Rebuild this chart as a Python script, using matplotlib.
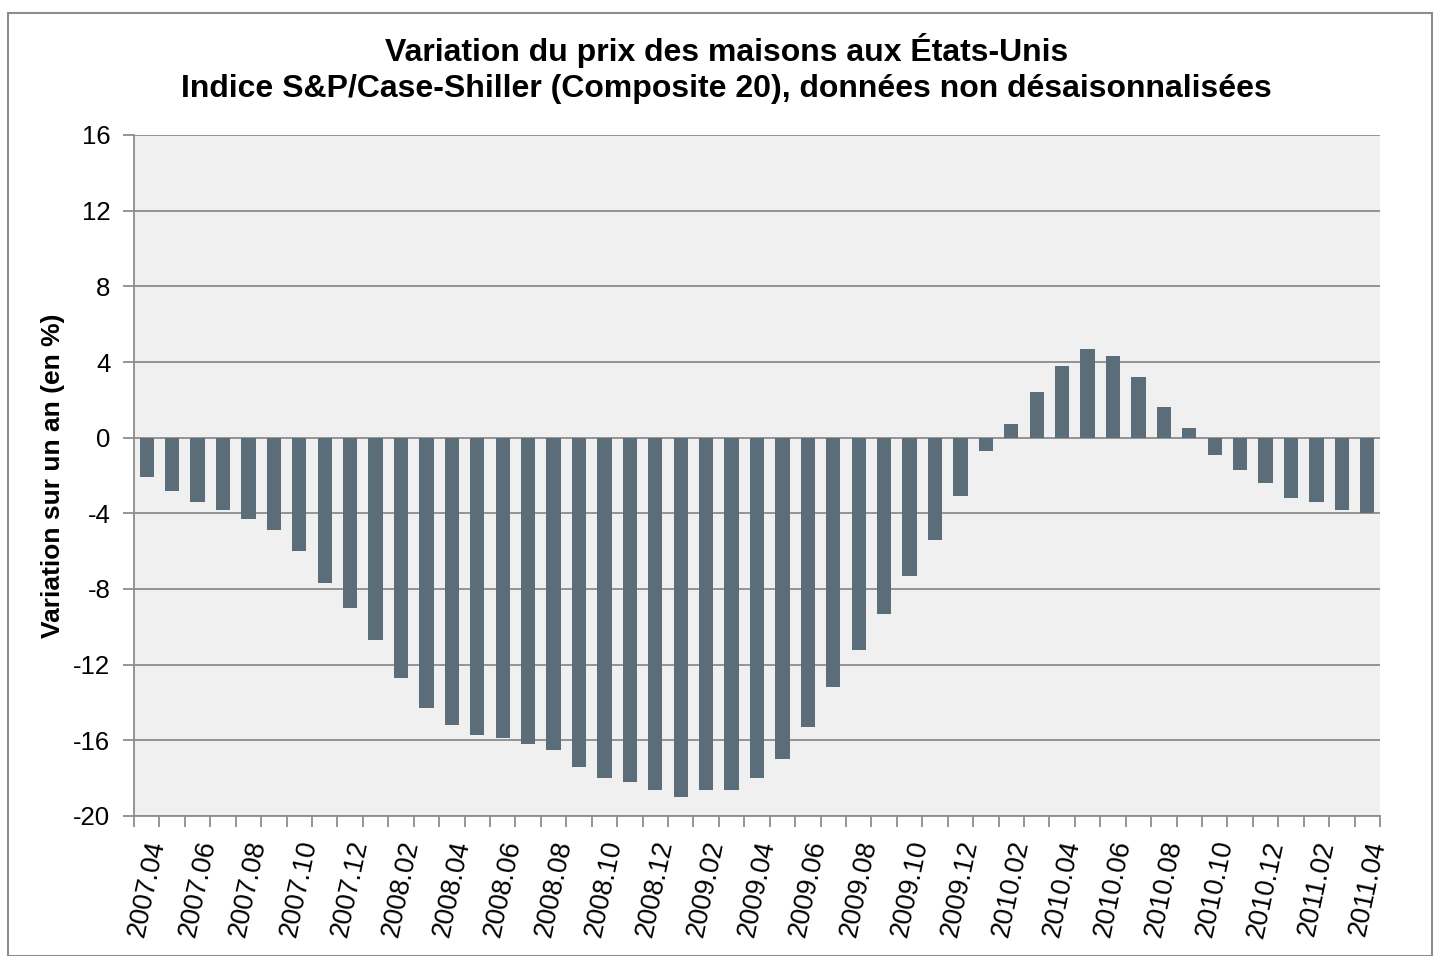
import matplotlib
matplotlib.use("Agg")
import matplotlib.pyplot as plt
import numpy as np
from matplotlib.patches import Rectangle

# monthly labels 2007.04 .. 2011.04
months = [f"{y}.{m:02d}" for y in range(2007, 2012) for m in range(1, 13)]
months = months[months.index("2007.04"):months.index("2011.04") + 1]

# year-over-year change (%)
values = [-2.1, -2.8, -3.4, -3.8, -4.3, -4.9, -6.0, -7.7, -9.0, -10.7,
          -12.7, -14.3, -15.2, -15.7, -15.9, -16.2, -16.5, -17.4, -18.0, -18.2,
          -18.6, -19.0, -18.6, -18.6, -18.0, -17.0, -15.3, -13.2, -11.2, -9.3,
          -7.3, -5.4, -3.1, -0.7, 0.7, 2.4, 3.8, 4.7, 4.3, 3.2,
          1.6, 0.5, -0.9, -1.7, -2.4, -3.2, -3.4, -3.8, -4.0]

yticks = [16, 12, 8, 4, 0, -4, -8, -12, -16, -20]

title = ("Variation du prix des maisons aux États-Unis\n"
         "Indice S&P/Case-Shiller (Composite 20), données non désaisonnalisées")

plt.rcParams["font.family"] = ["Liberation Sans", "DejaVu Sans"]

fig = plt.figure(figsize=(14.39, 9.56), dpi=100)
ax = fig.add_axes([134 / 1439, 1 - 816 / 956, (1380 - 134) / 1439, (816 - 135) / 956])

# outer chart border
fig.patches.append(Rectangle((8 / 1439, 0), (1432 - 8) / 1439, 1 - 13 / 956,
                             transform=fig.transFigure, fill=False,
                             edgecolor="#8c8c8c", linewidth=1.5))

x = np.arange(len(values))
ax.set_facecolor("#f0f0f0")
ax.bar(x, values, width=0.56, color="#5b6d79", zorder=3)

ax.set_xlim(-0.5, len(values) - 0.5)
ax.set_ylim(-20, 16)
ax.set_yticks(yticks)
ax.set_yticklabels([str(t) for t in yticks], fontsize=18.5)
ax.yaxis.grid(True, color="#8c8c8c", linewidth=1.3, zorder=1)
ax.tick_params(axis="y", length=8, width=1.3, color="#8c8c8c", pad=9)

ax.set_xticks(x[::2])
ax.set_xticklabels(months[::2], rotation=78, fontsize=19.5, ha="center")
ax.set_xticks(np.arange(len(values) + 1) - 0.5, minor=True)
ax.tick_params(axis="x", which="major", length=0, pad=16)
ax.tick_params(axis="x", which="minor", length=8, width=1.3, color="#8c8c8c")

for side in ["top", "right"]:
    ax.spines[side].set_visible(False)
for side in ["left", "bottom"]:
    ax.spines[side].set_color("#8c8c8c")
    ax.spines[side].set_linewidth(1.3)

ax.set_ylabel("Variation sur un an (en %)", fontsize=19, fontweight="bold", labelpad=6)
fig.suptitle(title, fontsize=23, fontweight="bold", y=1 - 33 / 956, va="top", x=0.505,
             linespacing=1.25)

fig.savefig("out.png", dpi=100)
